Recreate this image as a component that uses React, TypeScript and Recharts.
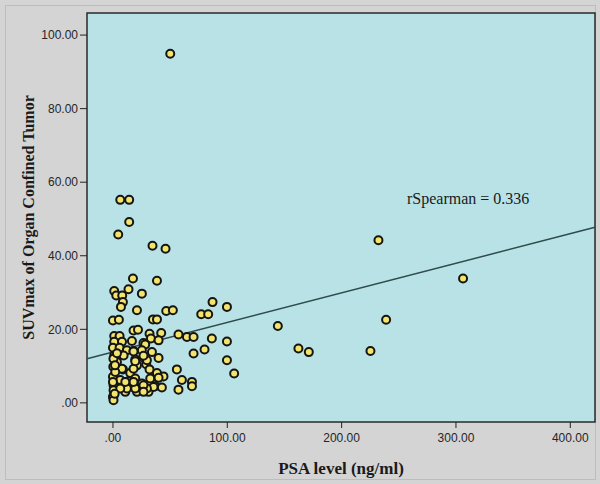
import React from 'react';
import {
  ScatterChart,
  Scatter,
  XAxis,
  YAxis,
  ReferenceArea,
  ReferenceLine,
} from 'recharts';

// PSA level (ng/ml) per patient
const psaLevel = [
  50.1, 6.4, 14.2, 14.2, 4.6, 34.6, 46.0, 17.5, 38.5, 232.2, 306.2, 144.2, 238.9, 162.2, 171.3, 225.2,
  1.1, 13.6, 2.9, 8.1, 25.3, 8.7, 7.0, 21.0, 46.6, 52.4, 87.1, 99.7, 77.2, 83.3, 0.0, 5.2,
  35.0, 38.5, 18.0, 21.9, 32.0, 42.2, 57.3, 64.7, 70.5, 1.1, 5.8, 1.1, 7.9, 16.6, 26.7, 33.2,
  39.9, 86.5, 99.7, 0.0, 5.8, 12.2, 18.0, 28.2, 34.1, 25.3, 70.5, 80.1, 1.1, 9.3, 19.5, 26.7,
  39.9, 29.1, 3.5, 99.7, 0.3, 8.7, 15.1, 21.0, 32.0, 38.5, 55.9, 106.0, 0.0, 6.4, 13.6, 19.5,
  25.3, 44.2, 60.3, 69.1, 0.5, 9.3, 17.5, 37.0, 42.8, 0.5, 10.8, 21.0, 26.2, 31.1, 57.3, 69.1,
  0.5, 29.7, 32.6, 39.9, 35.5, 29.7, 0.0, 0.0, 0.5, 7.9, 18.0, 26.7, 12.2, 19.5, 6.4, 26.7,
  18.0, 10.8, 26.7, 19.5, 18.0, 1.5, 2.0, 0.4, 3.5, 1.8,
];

// SUVmax of organ confined tumor, same order
const suvMax = [
  94.9, 55.2, 55.2, 49.2, 45.8, 42.7, 41.9, 33.8, 33.2, 44.2, 33.8, 20.9, 22.6, 14.8, 13.8, 14.1,
  30.4, 30.9, 29.2, 29.2, 29.7, 27.4, 26.1, 25.2, 25.0, 25.2, 27.4, 26.1, 24.1, 24.1, 22.4, 22.6,
  22.7, 22.7, 19.7, 19.9, 18.8, 19.0, 18.6, 17.9, 17.9, 18.2, 18.2, 16.6, 16.6, 16.8, 16.3, 17.5,
  17.0, 17.5, 16.7, 15.0, 15.0, 14.3, 14.1, 15.9, 13.8, 14.3, 13.4, 14.5, 12.9, 12.9, 11.8, 12.3,
  12.2, 10.5, 11.1, 11.6, 9.8, 9.1, 8.1, 10.2, 9.1, 8.1, 9.1, 8.0, 7.1, 6.2, 5.9, 6.6,
  5.3, 7.2, 6.2, 5.7, 4.8, 4.3, 4.3, 4.5, 4.2, 3.4, 3.0, 3.0, 3.7, 3.0, 3.6, 4.5,
  1.8, 11.6, 6.6, 6.8, 4.3, 3.9, 5.7, 1.6, 0.7, 9.3, 9.3, 4.8, 3.9, 3.9, 3.9, 3.0,
  5.7, 5.7, 12.8, 11.3, 14.0, 2.5, 8.4, 12.0, 13.5, 10.2,
];

const xTicks = [0, 100, 200, 300, 400];
const yTicks = [0, 20, 40, 60, 80, 100];
const xDomain = [-22.7, 421.6];
const yDomain = [-5.2, 106];

// linear fit line
const fitIntercept = 13.8;
const fitSlope = 0.0805;

const points = psaLevel.map((psa, i) => ({ psa, suv: suvMax[i] }));

const fmt = (v: number) => (v === 0 ? '.00' : v.toFixed(2));

const Dot = (props: any) => (
  <circle cx={props.cx} cy={props.cy} r={4} fill="#f3e46c" stroke="#151515" strokeWidth={2} />
);

export default function App() {
  const tickStyle = { fontSize: 12, fill: '#262626', fontFamily: '"Liberation Sans", Arial, sans-serif' };
  return (
    <div
      style={{
        position: 'fixed',
        left: 0,
        top: 0,
        width: 600,
        height: 484,
        background: '#d4d4d4',
      }}
    >
      <div
        style={{
          position: 'absolute',
          left: 5,
          top: 5,
          width: 589,
          height: 473,
          border: '1px solid #bdbdbd',
        }}
      />
      <ScatterChart
        width={600}
        height={484}
        margin={{ top: 13, right: 5, bottom: 0, left: 0 }}
        style={{ position: 'absolute', left: 0, top: 0 }}
      >
        <XAxis
          type="number"
          dataKey="psa"
          domain={xDomain}
          ticks={xTicks}
          allowDataOverflow
          tickFormatter={fmt}
          axisLine={false}
          tickLine={{ stroke: '#222' }}
          tickSize={6}
          tickMargin={5}
          height={62}
          tick={tickStyle}
          label={{
            value: 'PSA level (ng/ml)',
            position: 'insideBottom',
            offset: 10,
            style: { fontSize: 17, fontWeight: 'bold', fill: '#1a1a1a', fontFamily: '"Liberation Serif", serif' },
          }}
        />
        <YAxis
          type="number"
          dataKey="suv"
          domain={yDomain}
          ticks={yTicks}
          allowDataOverflow
          tickFormatter={fmt}
          axisLine={false}
          tickLine={{ stroke: '#222' }}
          tickSize={7}
          tickMargin={2}
          width={87}
          tick={tickStyle}
          label={{
            value: 'SUVmax of Organ Confined Tumor',
            angle: -90,
            position: 'insideLeft',
            offset: 28,
            style: {
              textAnchor: 'middle',
              fontSize: 16,
              fontWeight: 'bold',
              fill: '#1a1a1a',
              fontFamily: '"Liberation Serif", serif',
            },
          }}
        />
        <ReferenceArea
          x1={xDomain[0]}
          x2={xDomain[1]}
          y1={yDomain[0]}
          y2={yDomain[1]}
          fill="#b9e2e6"
          fillOpacity={1}
          stroke="#2a2a2a"
          strokeWidth={1.5}
        />
        <ReferenceLine
          segment={[
            { x: xDomain[0], y: fitIntercept + fitSlope * xDomain[0] },
            { x: xDomain[1], y: fitIntercept + fitSlope * xDomain[1] },
          ]}
          stroke="#2f4b4b"
          strokeWidth={1.5}
        />
        <Scatter data={points} shape={Dot} isAnimationActive={false} />
      </ScatterChart>
      <div
        style={{
          position: 'absolute',
          left: 407,
          top: 190,
          fontFamily: '"Liberation Serif", serif',
          fontSize: 16,
          color: '#1a1a1a',
          whiteSpace: 'nowrap',
        }}
      >
        rSpearman = 0.336
      </div>
    </div>
  );
}
